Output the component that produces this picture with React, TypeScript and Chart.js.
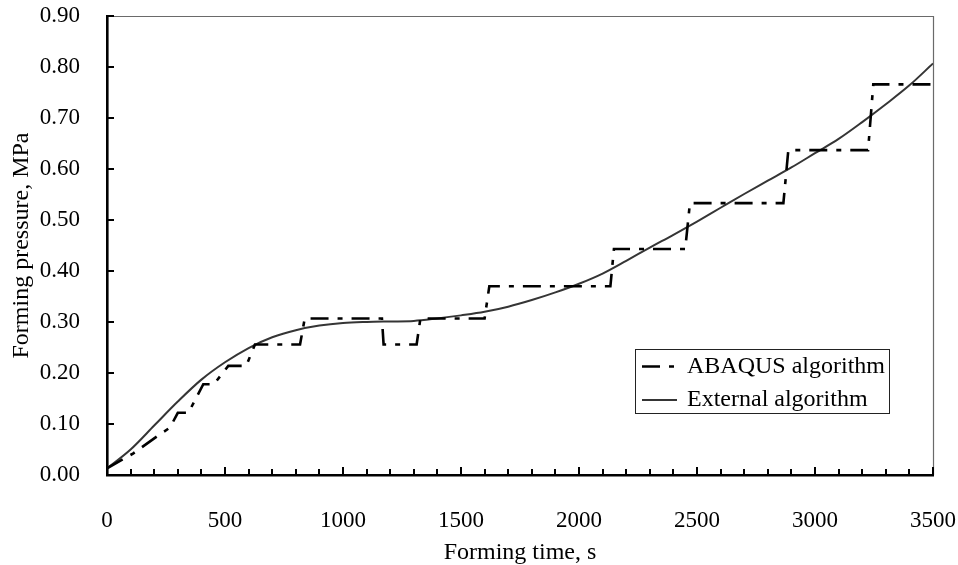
import { useEffect, useRef } from "react";
import { Chart, registerables } from "chart.js";

Chart.register(...registerables);

// ---------- data ----------
const SERIES_LABELS = ["ABAQUS algorithm", "External algorithm"];

const abaqusTime = [
  0, 110, 225, 267, 300, 345, 408, 453, 514, 590, 627, 818, 838, 1165, 1172,
  1312, 1328, 1600, 1620, 2133, 2148, 2450, 2470, 2866, 2887, 3225, 3247, 3500,
];
const abaqusPressure = [
  0.013, 0.042, 0.08, 0.093, 0.122, 0.122, 0.178, 0.178, 0.214, 0.214, 0.256,
  0.256, 0.307, 0.307, 0.256, 0.256, 0.307, 0.307, 0.37, 0.37, 0.443, 0.443,
  0.533, 0.533, 0.637, 0.637, 0.766, 0.766,
];

const externalTime = [
  0, 100, 200, 300, 400, 500, 600, 700, 800, 900, 1000, 1100, 1200, 1300, 1400,
  1500, 1600, 1700, 1800, 1900, 2000, 2100, 2200, 2300, 2400, 2500, 2600, 2700,
  2800, 2900, 3000, 3100, 3200, 3300, 3400, 3500,
];
const externalPressure = [
  0.013, 0.05, 0.097, 0.144, 0.187, 0.221, 0.249, 0.27, 0.284, 0.293, 0.298,
  0.3, 0.301, 0.302, 0.307, 0.313, 0.32, 0.33, 0.343, 0.358, 0.375, 0.395,
  0.42, 0.446, 0.471, 0.497, 0.524, 0.551, 0.577, 0.603, 0.631, 0.659, 0.692,
  0.727, 0.764, 0.807,
];

const X_MIN = 0;
const X_MAX = 3500;
const X_LABEL_STEP = 500;
const X_MINOR_STEP = 100;
const Y_MIN = 0;
const Y_MAX = 0.9;
const Y_STEP = 0.1;

const X_TITLE = "Forming time, s";
const Y_TITLE = "Forming pressure, MPa";

const FONT = "'Liberation Serif', 'Times New Roman', serif";

// ---------- plugin: inward ticks, frame, legend ----------
const decorPlugin = {
  id: "decor",
  afterDatasetsDraw(chart: any) {
    const { ctx, chartArea } = chart;
    const xs = chart.scales.x;
    const ys = chart.scales.y;
    ctx.save();
    // top & right frame
    ctx.strokeStyle = "#6a6a6a";
    ctx.lineWidth = 1.2;
    ctx.beginPath();
    ctx.moveTo(chartArea.left, chartArea.top + 0.5);
    ctx.lineTo(chartArea.right + 0.5, chartArea.top + 0.5);
    ctx.lineTo(chartArea.right + 0.5, chartArea.bottom);
    ctx.stroke();

    // inward ticks
    ctx.strokeStyle = "#000";
    ctx.lineWidth = 2;
    ctx.beginPath();
    for (let v = X_MIN + X_MINOR_STEP; v <= X_MAX + 1e-9; v += X_MINOR_STEP) {
      const px = Math.round(xs.getPixelForValue(v));
      const len = v % X_LABEL_STEP === 0 ? 8 : 6;
      ctx.moveTo(px, chartArea.bottom);
      ctx.lineTo(px, chartArea.bottom - len);
    }
    ys.ticks.forEach((t: any) => {
      const py = Math.round(ys.getPixelForValue(t.value));
      ctx.moveTo(chartArea.left, py);
      ctx.lineTo(chartArea.left + 7, py);
    });
    ctx.stroke();
    ctx.restore();
  },
  afterDraw(chart: any) {
    const { ctx } = chart;
    const box = { left: 635.5, top: 349.5, right: 889.5, bottom: 413.5 };
    ctx.save();
    ctx.fillStyle = "#fff";
    ctx.fillRect(box.left, box.top, box.right - box.left, box.bottom - box.top);
    ctx.strokeStyle = "#222";
    ctx.lineWidth = 1;
    ctx.strokeRect(box.left, box.top, box.right - box.left, box.bottom - box.top);
    const rows = [366.5, 400];
    chart.data.datasets.forEach((ds: any, i: number) => {
      const y = rows[i];
      ctx.save();
      ctx.strokeStyle = ds.borderColor;
      ctx.lineWidth = ds.borderWidth;
      ctx.setLineDash(ds.borderDash || []);
      ctx.beginPath();
      ctx.moveTo(642, y);
      ctx.lineTo(677, y);
      ctx.stroke();
      ctx.restore();
      ctx.fillStyle = "#000";
      ctx.font = `24px ${FONT}`;
      ctx.textBaseline = "middle";
      ctx.textAlign = "left";
      ctx.fillText(ds.label, 687, y);
    });
    ctx.restore();
  },
};

export default function App() {
  const canvasRef = useRef<HTMLCanvasElement | null>(null);

  useEffect(() => {
    document.body.style.margin = "0";
    const canvas = canvasRef.current;
    if (!canvas) return;
    Chart.defaults.color = "#000";
    Chart.defaults.font.family = FONT;

    const chart = new Chart(canvas, {
      type: "line",
      data: {
        datasets: [
          {
            label: SERIES_LABELS[0],
            data: abaqusTime.map((t, i) => ({ x: t, y: abaqusPressure[i] })),
            borderColor: "#000",
            borderWidth: 2.6,
            borderDash: [18, 9, 5, 9],
            pointRadius: 0,
            tension: 0,
            fill: false,
          },
          {
            label: SERIES_LABELS[1],
            data: externalTime.map((t, i) => ({ x: t, y: externalPressure[i] })),
            borderColor: "#353535",
            borderWidth: 2,
            pointRadius: 0,
            cubicInterpolationMode: "monotone",
            fill: false,
          },
        ],
      },
      options: {
        responsive: false,
        animation: false,
        devicePixelRatio: 1,
        layout: { padding: { left: 0, top: 16, right: 25, bottom: 0 } },
        plugins: {
          legend: { display: false },
          tooltip: { enabled: false },
        },
        scales: {
          x: {
            type: "linear",
            min: X_MIN,
            max: X_MAX,
            afterFit: (scale: any) => {
              scale.height = 90;
              scale.paddingLeft = 0;
              scale.paddingRight = 0;
              scale.paddingTop = 0;
              scale.paddingBottom = 0;
            },
            grid: { display: false },
            border: { display: true, color: "#000", width: 2.6 },
            ticks: {
              stepSize: X_LABEL_STEP,
              padding: 24,
              color: "#000",
              font: { size: 23, family: FONT },
              maxRotation: 0,
              autoSkip: false,
              callback: (v: any) => String(v),
            },
            title: {
              display: true,
              text: X_TITLE,
              color: "#000",
              font: { size: 24, family: FONT, lineHeight: 1 },
              padding: { top: 0, bottom: 0 },
            },
          },
          y: {
            type: "linear",
            min: Y_MIN,
            max: Y_MAX,
            afterFit: (scale: any) => {
              scale.width = 107;
              scale.paddingLeft = 0;
              scale.paddingRight = 0;
              scale.paddingTop = 0;
              scale.paddingBottom = 0;
            },
            grid: { display: false },
            border: { display: true, color: "#000", width: 2.6 },
            ticks: {
              stepSize: Y_STEP,
              padding: 19,
              color: "#000",
              font: { size: 23, family: FONT },
              callback: (v: any) => Number(v).toFixed(2),
            },
            title: {
              display: true,
              text: Y_TITLE,
              color: "#000",
              font: { size: 24, family: FONT, lineHeight: 1.2 },
              padding: { top: 7, bottom: 0 },
            },
          },
        },
      },
      plugins: [decorPlugin],
    } as any);

    return () => chart.destroy();
  }, []);

  return (
    <div style={{ width: 958, height: 565 }}>
      <canvas ref={canvasRef} width={958} height={565} />
    </div>
  );
}
